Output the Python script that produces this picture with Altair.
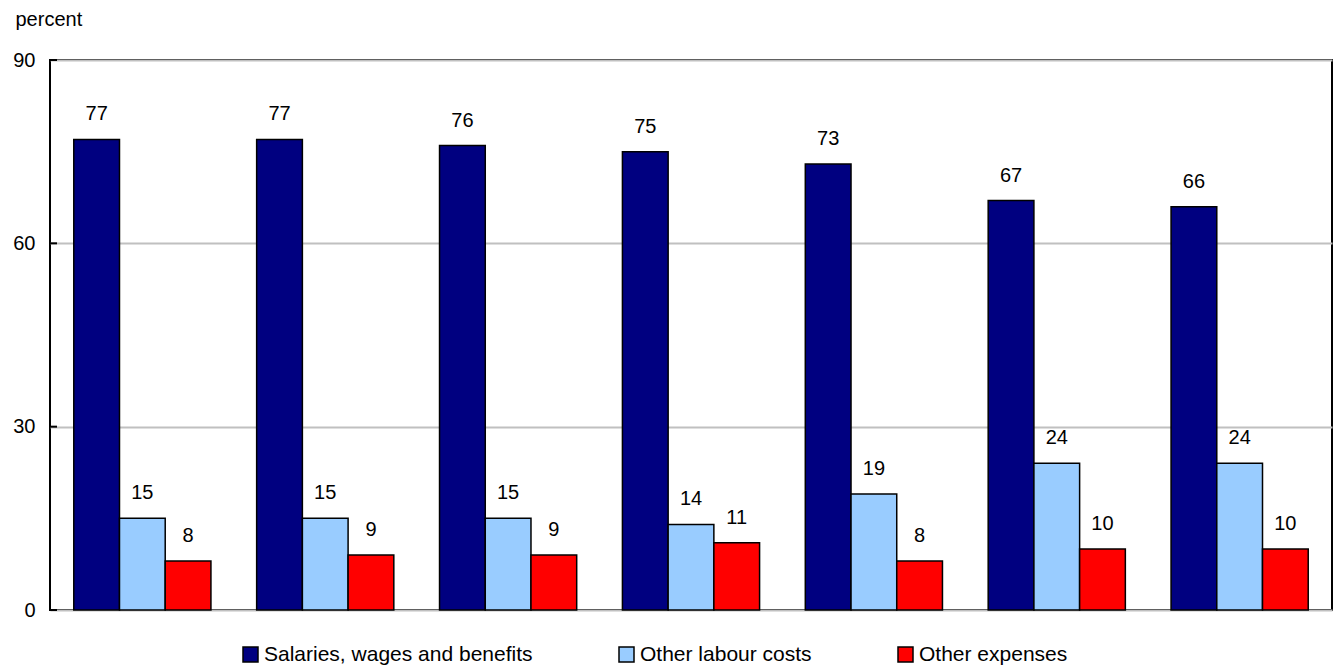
import altair as alt
import pandas as pd

groups = ["1", "2", "3", "4", "5", "6", "7"]
series = ["Salaries, wages and benefits", "Other labour costs", "Other expenses"]
salaries = [77, 77, 76, 75, 73, 67, 66]
other_labour = [15, 15, 15, 14, 19, 24, 24]
other_exp = [8, 9, 9, 11, 8, 10, 10]
colors = ["#000080", "#99ccff", "#ff0000"]
y_ticks = [0, 30, 60, 90]

rows = []
for i, g in enumerate(groups):
    for s, vals in zip(series, [salaries, other_labour, other_exp]):
        rows.append({"group": g, "series": s, "value": vals[i]})
df = pd.DataFrame(rows)

FONT = "Liberation Sans"
FS = 20

x = alt.X("group:N", sort=groups, axis=None,
          scale=alt.Scale(paddingInner=0.25, paddingOuter=0.13))
xo = alt.XOffset("series:N", sort=series)
yscale = alt.Scale(domain=[0, 90])
yaxis = alt.Axis(values=y_ticks, title="percent", titleAngle=0,
                 titleAlign="left", titleX=-35, titleY=-35,
                 titleBaseline="alphabetic", titleFontWeight="normal",
                 titleFontSize=FS, titleFont=FONT, titleColor="black",
                 labelFont=FONT, labelFontSize=FS, labelColor="black",
                 labelPadding=15, ticks=False, domain=False,
                 grid=True, gridColor="#c0c0c0", gridWidth=2)
y = alt.Y("value:Q", scale=yscale, axis=yaxis, title="percent")

base = alt.Chart(df)

bars = base.mark_bar(stroke="black", strokeWidth=1.5).encode(
    x=x, xOffset=xo, y=y,
    color=alt.Color("series:N", sort=series,
                    scale=alt.Scale(domain=series, range=colors),
                    legend=alt.Legend(title=None, orient="none", direction="horizontal",
                                      legendX=190, legendY=584,
                                      symbolType="square", symbolSize=225,
                                      symbolStrokeColor="black", symbolStrokeWidth=1.5,
                                      symbolOpacity=1, labelLimit=0,
                                      labelFont=FONT, labelFontSize=21, labelColor="black",
                                      labelOffset=3, columnPadding=83)),
)

labels = base.mark_text(font=FONT, fontSize=FS, color="black",
                        baseline="alphabetic", dy=-19).encode(
    x=x, xOffset=xo, y=y, text="value:Q"
)

ticks = alt.Chart(pd.DataFrame({"value": y_ticks})).mark_rule(
    color="black", strokeWidth=2).encode(
    y=y,
    x=alt.value(0), x2=alt.value(7)
)

chart = alt.layer(bars, labels, ticks).properties(
    width=1282, height=550,
    background="white",
    autosize=alt.AutoSizeParams(type="none"),
    padding={"left": 50, "top": 60, "right": 8, "bottom": 56},
).configure_view(stroke="black", strokeWidth=2)

chart.save("out.html", embed_options={"renderer": "svg", "actions": False})
